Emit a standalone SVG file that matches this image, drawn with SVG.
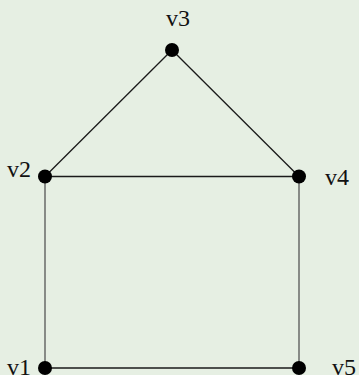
<svg xmlns="http://www.w3.org/2000/svg" width="359" height="375" viewBox="0 0 359 375">
<style>
.edge{stroke:#1a1a1a;stroke-width:1.3;fill:none}
.v{stroke:#555}
.dot{fill:#000}
.lbl{font-family:"Liberation Serif","Times New Roman",serif;font-size:24px;fill:#111}
</style>
<rect width="359" height="375" fill="#e6efe3"/>
<g id="edges">
<line class="edge" x1="172" y1="50" x2="45" y2="176.5"/>
<line class="edge" x1="172" y1="50" x2="299" y2="176.5"/>
<line class="edge" x1="45" y1="176.5" x2="299" y2="176.5"/>
<line class="edge v" x1="45" y1="176.5" x2="45" y2="368"/>
<line class="edge v" x1="299" y1="176.5" x2="299" y2="368"/>
<line class="edge" x1="45" y1="368" x2="299" y2="368"/>
</g>
<g id="v3"><circle class="dot" cx="172" cy="50" r="7"/><text class="lbl" x="166" y="26">v3</text></g>
<g id="v2"><circle class="dot" cx="45" cy="176.5" r="7"/><text class="lbl" x="7" y="177">v2</text></g>
<g id="v4"><circle class="dot" cx="299" cy="176.5" r="7"/><text class="lbl" x="325" y="185">v4</text></g>
<g id="v1"><circle class="dot" cx="45" cy="368" r="7"/><text class="lbl" x="7" y="374.5">v1</text></g>
<g id="v5"><circle class="dot" cx="299" cy="368" r="7"/><text class="lbl" x="332" y="375">v5</text></g>
</svg>
